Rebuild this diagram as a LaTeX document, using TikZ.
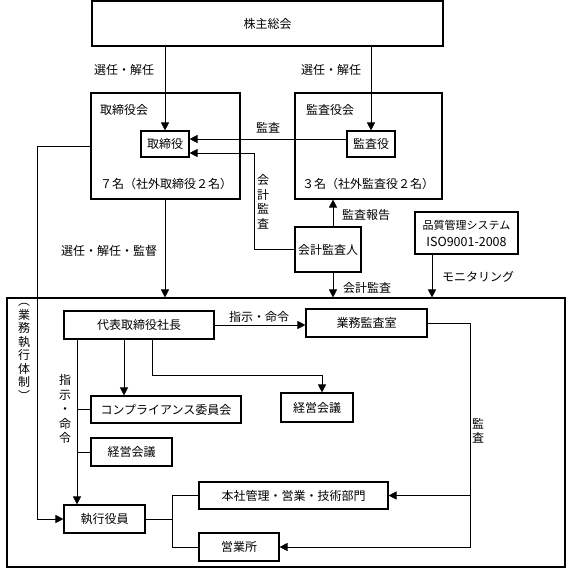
\documentclass[tikz,border=0pt]{standalone}
\usepackage{fontspec}
\setmainfont{Noto Sans CJK JP}
\usetikzlibrary{arrows.meta}
\begin{document}
\begin{tikzpicture}[x=1pt,y=-1pt,
  box/.style={draw,line width=1.1pt,inner sep=0pt,font=\fontsize{12}{14}\selectfont},
  conn/.style={line width=0.7pt},
  arr/.style={conn,-{Triangle[length=8pt,width=8pt]}},
  lbl/.style={inner sep=0pt,font=\fontsize{12}{14}\selectfont},
  vlbl/.style={inner sep=0pt,align=center,font=\fontsize{12}{14.5}\selectfont}]
\useasboundingbox (0,0) rectangle (568,570);
% boxes
\node[box,minimum width=351pt,minimum height=45pt] (kabu) at (267.5,23.5) {株主総会};
\node[box,minimum width=149pt,minimum height=106pt] (torikai) at (165.5,146) {};
\node[box,minimum width=147pt,minimum height=106pt] (kansakai) at (368.5,146) {};
\node[box,minimum width=48pt,minimum height=26pt] (tori) at (165,144) {取締役};
\node[box,minimum width=48pt,minimum height=26pt] (kansa) at (371,144) {監査役};
\node[box,minimum width=66pt,minimum height=45pt] (kaikei) at (328,249.5) {会計監査人};
\node[box,minimum width=103pt,minimum height=42pt,align=center,font=\fontsize{11}{17}\selectfont] (hinshitsu) at (466.5,233) {品質管理システム\\{\fontsize{12.5}{17}\selectfont ISO9001-2008}};
\node[box,minimum width=558pt,minimum height=269pt] (outer) at (286,432.5) {};
\node[box,minimum width=150pt,minimum height=28pt] (daihyo) at (139,325) {代表取締役社長};
\node[box,minimum width=121pt,minimum height=28pt] (gyomu) at (366.5,323) {業務監査室};
\node[box,minimum width=150pt,minimum height=27pt] (comp) at (166,409.5) {コンプライアンス委員会};
\node[box,minimum width=72pt,minimum height=29pt] (keiei1) at (317,407.5) {経営会議};
\node[box,minimum width=81pt,minimum height=28pt] (keiei2) at (131.5,452) {経営会議};
\node[box,minimum width=81pt,minimum height=28pt] (shikko) at (104.5,519) {執行役員};
\node[box,minimum width=189pt,minimum height=27pt] (honsha) at (293.5,495.5) {本社管理・営業・技術部門};
\node[box,minimum width=80pt,minimum height=28pt] (eigyo) at (239,547) {営業所};
% labels
\node[lbl] (l1) at (124,70) {選任・解任};
\node[lbl] (l2) at (331,70) {選任・解任};
\node[lbl,anchor=west] (l3) at (100,110) {取締役会};
\node[lbl,anchor=west] (l4) at (306,110) {監査役会};
\node[lbl,anchor=west] (l5) at (100,184) {７名（社外取締役２名）};
\node[lbl,anchor=west] (l6) at (302,184) {３名（社外監査役２名）};
\node[lbl] (l7) at (268,128) {監査};
\node[vlbl] (l8) at (263,202) {会\\計\\監\\査};
\node[lbl,anchor=west] (l9) at (342,215) {監査報告};
\node[lbl] (l10) at (109,251) {選任・解任・監督};
\node[lbl,anchor=west] (l11) at (343,288) {会計監査};
\node[lbl,anchor=west] (l12) at (442,277) {モニタリング};
\node[vlbl,font=\fontsize{12}{13.5}\selectfont] (l13) at (24,352) {︵\\業\\務\\執\\行\\体\\制\\︶};
\node[lbl] (l14) at (259,317) {指示・命令};
\node[vlbl] (l15) at (65,409) {指\\示\\・\\命\\令};
\node[vlbl] (l16) at (478,431) {監\\査};
% helper coordinates
\coordinate (ax) at (333,0);
\coordinate (mx) at (432,0);
\coordinate (kx) at (254,0);
\coordinate (lx) at (37,0);
\coordinate (cx1) at (124,0);
\coordinate (c2) at (152,375);
\coordinate (c3) at (322,0);
\coordinate (vx) at (77,0);
\coordinate (bx) at (172,0);
\coordinate (rx) at (470,0);
% connectors
\draw[arr] (tori.north |- kabu.south) -- (tori.north);
\draw[arr] (kansa.north |- kabu.south) -- (kansa.north);
\draw[arr] ([yshift=5pt]kansa.west) -- ([yshift=5pt]tori.east);
\draw[arr] (kaikei.west) -| ([yshift=-9pt]tori.east -| kx) -- ([yshift=-9pt]tori.east);
\draw[arr] (kaikei.north -| ax) -- (kansakai.south -| ax);
\draw[arr] (kaikei.south -| ax) -- (outer.north -| ax);
\draw[arr] (hinshitsu.south -| mx) -- (outer.north -| mx);
\draw[arr] (torikai.south -| tori) -- (outer.north -| tori);
\draw[arr] (torikai.west) -- (torikai.west -| lx) |- (shikko.west);
\draw[arr] (daihyo.east) -- (daihyo.east -| gyomu.west);
\draw[arr] (daihyo.south -| cx1) -- (comp.north -| cx1);
\draw[arr] (daihyo.south -| c2) -- (c2) -- (c3 |- c2) -- (keiei1.north -| c3);
\draw[arr] (daihyo.south -| vx) -- (shikko.north -| vx);
\draw[conn] (comp.west -| vx) -- (comp.west);
\draw[conn] (keiei2.west -| vx) -- (keiei2.west);
\draw[conn] (shikko.east) -- (shikko.east -| bx);
\draw[conn] (honsha.west) -- (honsha.west -| bx) -- (eigyo.west -| bx) -- (eigyo.west);
\draw[arr] (gyomu.east) -| (rx |- eigyo.east) -- (eigyo.east);
\draw[arr] (rx |- honsha.east) -- (honsha.east);
\end{tikzpicture}
\end{document}
